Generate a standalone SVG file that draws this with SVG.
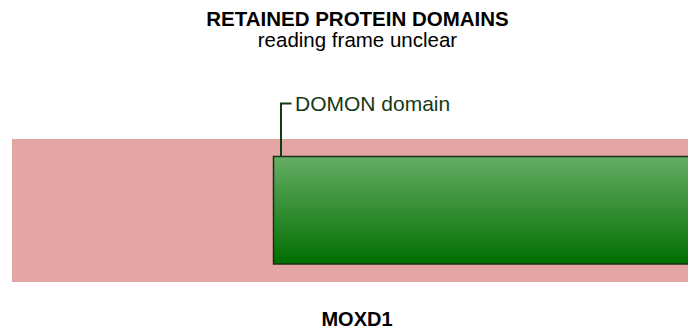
<svg xmlns="http://www.w3.org/2000/svg" width="688" height="331" viewBox="0 0 688 331">
  <defs>
    <linearGradient id="gGreen" x1="0" y1="0" x2="0" y2="1">
      <stop offset="0" stop-color="#66ae66"/>
      <stop offset="1" stop-color="#006e00"/>
    </linearGradient>
    <style>
      .t { font-family: "Liberation Sans", Arial, sans-serif; fill: #000; }
      .b { font-weight: bold; }
      .lbl { font-family: "Liberation Sans", Arial, sans-serif; fill: #143a14; font-size: 21px; }
      .conn { fill: none; stroke: #143a14; stroke-width: 2; }
    </style>
  </defs>
  <rect width="688" height="331" fill="#fff"/>
  <g id="title">
    <text class="t b" x="357.5" y="25.5" font-size="20.5" text-anchor="middle">RETAINED PROTEIN DOMAINS</text>
    <text class="t" x="357.5" y="47" font-size="20.5" text-anchor="middle">reading frame unclear</text>
  </g>
  <g id="protein">
    <rect x="12" y="139" width="680" height="143" fill="#e4a5a5"/>
  </g>
  <g id="domon">
    <rect x="273.5" y="156.5" width="430" height="107.5" fill="url(#gGreen)" stroke="#1a2e1a" stroke-width="1.5"/>
    <text class="lbl" x="295" y="111">DOMON domain</text>
  </g>
  <g id="connectors">
    <path class="conn" d="M281 157 V103.5 H291.5"/>
  </g>
  <g id="gene">
    <text class="t b" x="357" y="326" font-size="20" text-anchor="middle">MOXD1</text>
  </g>
</svg>
